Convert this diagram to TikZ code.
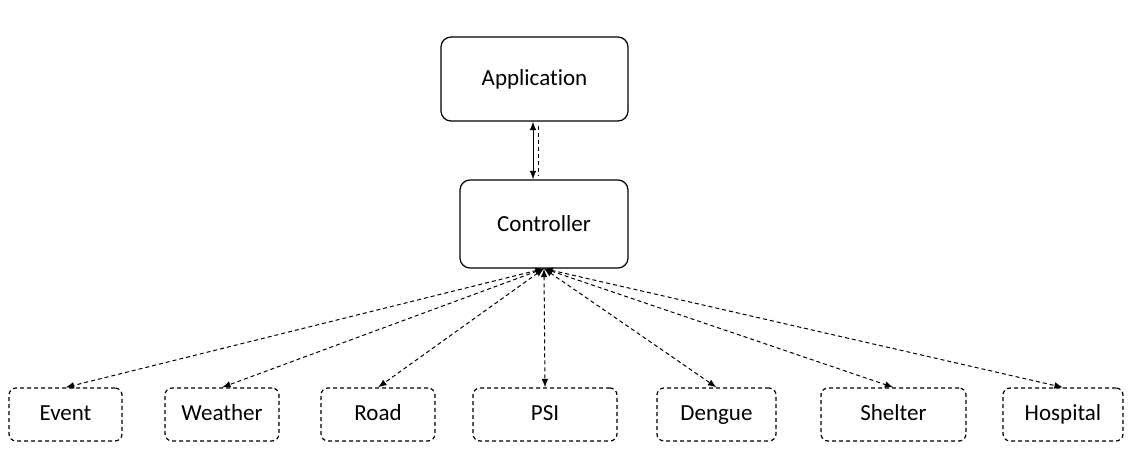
\documentclass[tikz,border=0pt]{standalone}
\usepackage{fontspec}
\setmainfont{Carlito}[Ligatures=NoCommon]
\usetikzlibrary{positioning}
\tikzset{%
  every module/.style={
    rectangle,
    draw,
    line width=0.6pt,
    rounded corners=5pt,
    minimum width=84pt,
    minimum height=44pt
  },
  source/.style={
    rectangle,
    draw,
    line width=0.6pt,
    rounded corners=3.5pt,
    dash pattern=on 2pt off 1.5pt,
    text height=8pt,
    text depth=2.5pt,
    minimum height=26.5pt
  },
}

\begin{document}
\begin{tikzpicture}[x=0.5pt,y=-0.5pt,>=latex,font=\fontsize{11.5}{14}\selectfont]
        \tikzstyle{link}=[<->,line width=0.5pt,dash pattern=on 2pt off 1.5pt]
        \useasboundingbox (0,0) rectangle (1132,468);

        \node[every module,minimum width=93.5pt,minimum height=42pt] (app) at (534.5,79) {Application};
        \node[every module] (ctrl) at (544,224) {Controller};

        \node[source,minimum width=56.5pt] (event) at (65.5,414.5) {Event};
        \node[source,minimum width=57pt] (weather) at (222,414.5) {Weather};
        \node[source,minimum width=57pt] (road) at (378,414.5) {Road};
        \node[source,minimum width=72pt] (psi) at (545,414.5) {PSI};
        \node[source,minimum width=59.5pt] (dengue) at (716.5,414.5) {Dengue};
        \node[source,minimum width=72.5pt] (shelter) at (893.5,414.5) {Shelter};
        \node[source,minimum width=60pt] (hospital) at (1063,414.5) {Hospital};

        \draw[<->,line width=0.5pt] ([xshift=-0.75pt]app.south) -- ([xshift=-0.75pt]app.south |- ctrl.north);
        \draw[line width=0.5pt,dash pattern=on 2pt off 1.5pt] ([xshift=1.75pt,yshift=-2pt]app.south) -- ([xshift=1.75pt,yshift=2pt]app.south |- ctrl.north);

        \foreach \src in {event,weather,road,psi,dengue,shelter,hospital}
            \draw[link] (ctrl.south) -- (\src.north);
\end{tikzpicture}
\end{document}
